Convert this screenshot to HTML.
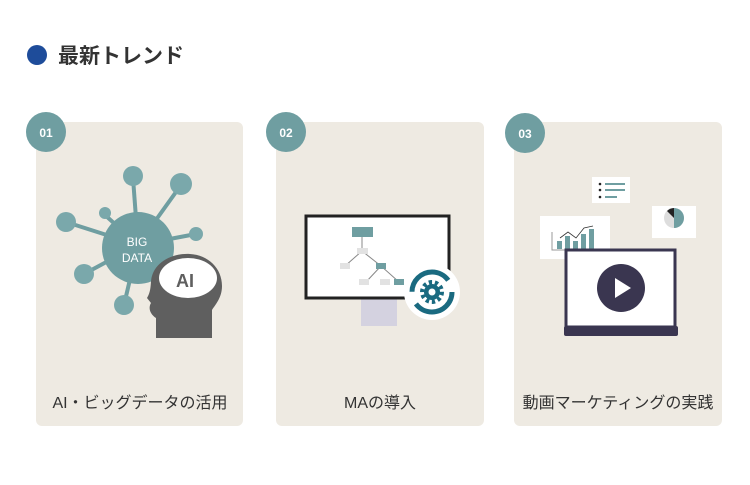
<!DOCTYPE html>
<html><head><meta charset="utf-8"><style>
body{margin:0;width:750px;height:480px;background:#fff;overflow:hidden;font-family:"Liberation Sans","Noto Sans CJK JP",sans-serif}
</style></head><body>
<svg width="750" height="480" viewBox="0 0 750 480" xmlns="http://www.w3.org/2000/svg" font-family="Liberation Sans, Noto Sans CJK JP, sans-serif">
<circle cx="37" cy="55" r="10" fill="#1e4c9a"/>
<text x="58" y="63" font-size="21" font-weight="bold" fill="#333">最新トレンド</text>
<g fill="#eeeae2">
<rect x="36" y="122" width="207" height="304" rx="6"/>
<rect x="276" y="122" width="208" height="304" rx="6"/>
<rect x="514" y="122" width="208" height="304" rx="6"/>
</g>
<g fill="#6f9ea1">
<circle cx="46" cy="132" r="20"/><circle cx="286" cy="132" r="20"/><circle cx="525" cy="133" r="20"/>
</g>
<g fill="#fff" font-size="12" font-weight="bold" text-anchor="middle">
<text x="46" y="137">01</text><text x="286" y="137">02</text><text x="525" y="138">03</text>
</g>
<g fill="#333" font-size="16" text-anchor="middle">
<text x="140" y="408">AI・ビッグデータの活用</text>
<text x="380" y="408">MAの導入</text>
<text x="618" y="408">動画マーケティングの実践</text>
</g>
<!-- card1 -->
<g stroke="#6f9ea1" stroke-width="4">
<line x1="138" y1="245" x2="133" y2="178"/><line x1="138" y1="245" x2="181" y2="185"/>
<line x1="138" y1="245" x2="105" y2="215"/><line x1="138" y1="245" x2="66" y2="222"/>
<line x1="138" y1="245" x2="196" y2="234"/><line x1="138" y1="245" x2="84" y2="274"/>
<line x1="138" y1="245" x2="124" y2="305"/>
</g>
<g fill="#7aa8ab">
<circle cx="133" cy="176" r="10"/><circle cx="181" cy="184" r="11"/><circle cx="105" cy="213" r="6"/>
<circle cx="66" cy="222" r="10"/><circle cx="196" cy="234" r="7"/><circle cx="84" cy="274" r="10"/>
<circle cx="124" cy="305" r="10"/><circle cx="138" cy="248" r="36" fill="#6f9ea1"/>
</g>
<text x="137" y="246" fill="#fff" font-size="12" text-anchor="middle">BIG</text>
<text x="137" y="262" fill="#fff" font-size="12" text-anchor="middle">DATA</text>
<path d="M156 338 L156 318 C150 314 148 308 151 303 L147 298 C152 290 150 282 152 276 C156 262 172 253 190 254 C208 255 222 268 222 286 C222 298 215 305 212 310 L212 338 Z" fill="#5f5f5f"/>
<ellipse cx="188" cy="278" rx="29" ry="20" fill="#fff"/>
<text x="185" y="287" font-size="18" font-weight="bold" fill="#5f5f5f" text-anchor="middle">AI</text>
<!-- card2 -->
<rect x="361" y="298" width="36" height="28" fill="#d4d2e0"/>
<rect x="306" y="216" width="143" height="82" fill="#fff" stroke="#222" stroke-width="3"/>
<g stroke="#888" stroke-width="1"><line x1="362" y1="232" x2="362" y2="248"/><line x1="362" y1="251" x2="345" y2="266"/><line x1="362" y1="251" x2="381" y2="266"/><line x1="381" y1="266" x2="366" y2="282"/><line x1="381" y1="266" x2="399" y2="282"/></g>
<rect x="352" y="227" width="21" height="10" fill="#6f9ea1"/>
<g fill="#e2e2e2"><rect x="357" y="248" width="11" height="6"/><rect x="340" y="263" width="10" height="6"/><rect x="359" y="279" width="10" height="6"/><rect x="380" y="279" width="10" height="6"/></g>
<rect x="376" y="263" width="10" height="6" fill="#6f9ea1"/><rect x="394" y="279" width="10" height="6" fill="#6f9ea1"/>
<circle cx="432" cy="292" r="28" fill="#fff"/>
<circle cx="432" cy="292" r="20" fill="none" stroke="#1a6a80" stroke-width="5" stroke-dasharray="50 13"/>
<circle cx="432" cy="292" r="9" fill="none" stroke="#1a6a80" stroke-width="6" stroke-dasharray="3 2.6"/>
<circle cx="432" cy="292" r="8" fill="#1a6a80"/><circle cx="432" cy="292" r="3.5" fill="#fff"/>
<!-- card3 -->
<rect x="592" y="177" width="38" height="26" fill="#fff"/>
<g fill="#222"><circle cx="600" cy="184" r="1.3"/><circle cx="600" cy="190" r="1.3"/><circle cx="600" cy="197" r="1.3"/></g>
<g fill="#6f9ea1"><rect x="605" y="183" width="20" height="2"/><rect x="605" y="189" width="20" height="2"/><rect x="605" y="196" width="12" height="2"/></g>
<rect x="652" y="206" width="44" height="32" fill="#fff"/>
<circle cx="674" cy="218" r="10" fill="#ddd"/><path d="M674 208 A10 10 0 0 1 674 228 Z" fill="#6f9ea1"/><path d="M674 208 L674 218 L667 211 A10 10 0 0 1 674 208Z" fill="#222"/>
<rect x="540" y="216" width="70" height="43" fill="#fff"/>
<polyline points="552,232 552,250 600,250" fill="none" stroke="#999"/>
<g fill="#6f9ea1"><rect x="557" y="241" width="5" height="8"/><rect x="565" y="236" width="5" height="13"/><rect x="573" y="241" width="5" height="8"/><rect x="581" y="234" width="5" height="15"/><rect x="589" y="229" width="5" height="20"/></g>
<polyline points="560,238 568,232 576,238 584,228 593,226" fill="none" stroke="#333" stroke-width="0.8"/>
<rect x="566" y="250" width="109" height="77" fill="#fff" stroke="#3a3650" stroke-width="3"/>
<rect x="564" y="326" width="114" height="10" rx="2" fill="#3a3650"/>
<circle cx="621" cy="288" r="24" fill="#3a3650"/>
<path d="M615 278 L631 288 L615 298 Z" fill="#fff"/>
</svg>
</body></html>
